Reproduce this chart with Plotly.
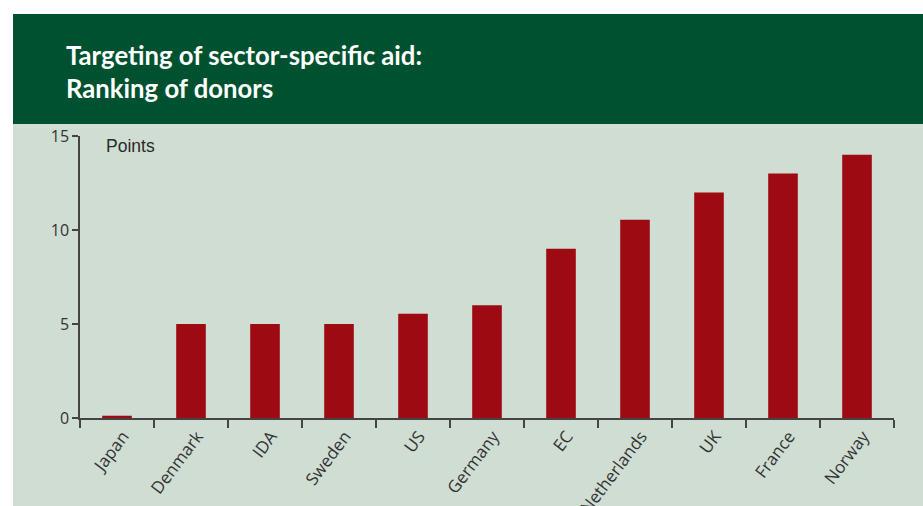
import plotly.graph_objects as go

donors = ["Japan", "Denmark", "IDA", "Sweden", "US", "Germany", "EC",
          "Netherlands", "UK", "France", "Norway"]
points = [0.12, 5, 5, 5, 5.55, 6, 9, 10.55, 12, 13, 14]
y_ticks = [0, 5, 10, 15]

W, H = 923, 506
L, R, T, B = 80, 29, 136, 88
pw = W - L - R
ph = H - T - B

def px_x(px):
    return (px - L) / pw

def px_y(py):
    return (H - B - py) / ph

fig = go.Figure()
fig.add_trace(go.Bar(
    x=donors, y=points, marker_color="#9e0a12", marker_line_width=0,
    width=0.4,
))

fig.add_shape(type="rect", xref="paper", yref="paper", layer="below",
              x0=px_x(13), x1=px_x(923), y0=px_y(506), y1=px_y(124),
              fillcolor="#cfddd3", line_width=0)
fig.add_shape(type="rect", xref="paper", yref="paper", layer="below",
              x0=px_x(13), x1=px_x(923), y0=px_y(124), y1=px_y(14),
              fillcolor="#00512f", line_width=0)

fig.add_annotation(xref="paper", yref="paper", x=px_x(64), y=px_y(38),
                   xanchor="left", yanchor="top", showarrow=False, align="left",
                   text="<b>Targeting of sector-specific aid:<br>Ranking of donors</b>",
                   font=dict(family="Lato", size=25.7, color="white"))
fig.add_annotation(xref="paper", yref="paper", x=px_x(104), y=px_y(134),
                   xanchor="left", yanchor="top", showarrow=False,
                   text="Points",
                   font=dict(family="Liberation Sans", size=17.5, color="#2a2a2a"))

fig.update_layout(
    width=W, height=H,
    margin=dict(l=L, r=R, t=T, b=B, autoexpand=False),
    paper_bgcolor="white", plot_bgcolor="rgba(0,0,0,0)",
    showlegend=False,
    font=dict(family="Open Sans", size=16, color="#333333"),
)
fig.update_xaxes(
    automargin=False,
    showline=True, linecolor="#444444", linewidth=1.5,
    ticks="outside", ticklen=8, tickcolor="#444444", tickwidth=1.5,
    tickson="boundaries", tickangle=-53, showgrid=False,
    ticklabelshift=6,
    tickfont=dict(family="Open Sans", size=17, color="#333333"),
)
fig.update_yaxes(
    automargin=False,
    range=[0, 15], tickvals=y_ticks,
    showline=True, linecolor="#444444", linewidth=1.5,
    ticks="outside", ticklen=6, tickcolor="#444444", tickwidth=1.5,
    showgrid=False, zeroline=False,
    tickfont=dict(family="Open Sans", size=16, color="#333333"),
)

fig.write_html(
    "out.html",
    config={"displayModeBar": False},
    post_script="document.body.style.margin='0';document.body.style.overflow='hidden';",
)
